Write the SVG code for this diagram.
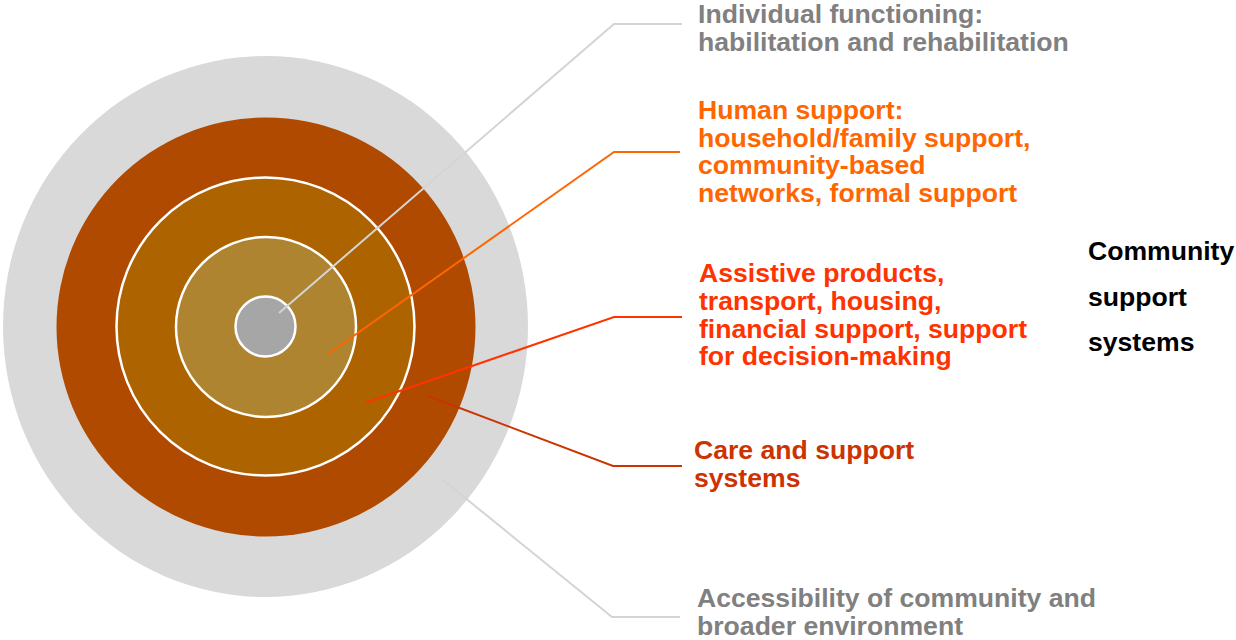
<svg xmlns="http://www.w3.org/2000/svg" width="1236" height="640" viewBox="0 0 1236 640">
<style>
text{font-family:"Liberation Sans",Arial,sans-serif;font-weight:bold;font-size:26.6px}
.gray{fill:#808080}
.orange{fill:#FF6600}
.red{fill:#FF3300}
.dred{fill:#CC3300}
.blk{fill:#000000}
.ln{fill:none;stroke-width:2;stroke-linejoin:miter}
</style>
<rect width="1236" height="640" fill="#FFFFFF"/>
<g id="ring-environment"><ellipse cx="265.5" cy="326.5" rx="262.5" ry="270.5" fill="#D9D9D9"/></g>
<g id="ring-care"><circle cx="266" cy="327" r="209.5" fill="#B04A00"/></g>
<g id="ring-assistive"><circle cx="265.5" cy="326.5" r="149" fill="#AD6400" stroke="#FFFFFF" stroke-width="2.5"/></g>
<g id="ring-human"><circle cx="266" cy="327" r="90" fill="#AF8431" stroke="#FFFFFF" stroke-width="2.5"/></g>
<g id="ring-individual"><circle cx="265.5" cy="326.5" r="30" fill="#A6A6A6" stroke="#FFFFFF" stroke-width="2.5"/></g>
<g id="connectors">
<polyline class="ln" stroke="#D4D4D4" points="279,313 614,24 682,24"/>
<polyline class="ln" stroke="#FF6600" points="328,354 614,152 680,152"/>
<polyline class="ln" stroke="#FF3300" points="365,403 614,317 682,317"/>
<polyline class="ln" stroke="#CC3300" points="428,396 613,466 682,466"/>
<polyline class="ln" stroke="#D4D4D4" points="443,480 612,617 680,617"/>
</g>
<g id="label-individual">
<text class="gray" x="698" y="23">Individual functioning:</text>
<text class="gray" x="698" y="51">habilitation and rehabilitation</text>
</g>
<g id="label-human">
<text class="orange" x="698" y="119">Human support:</text>
<text class="orange" x="698" y="146.5">household/family support,</text>
<text class="orange" x="698" y="174">community-based</text>
<text class="orange" x="698" y="201.5">networks, formal support</text>
</g>
<g id="label-assistive">
<text class="red" x="699" y="282">Assistive products,</text>
<text class="red" x="699" y="310">transport, housing,</text>
<text class="red" x="699" y="337.5">financial support, support</text>
<text class="red" x="699" y="365">for decision-making</text>
</g>
<g id="label-care">
<text class="dred" x="694" y="458.5">Care and support</text>
<text class="dred" x="694" y="487">systems</text>
</g>
<g id="label-accessibility">
<text class="gray" x="697" y="607">Accessibility of community and</text>
<text class="gray" x="697" y="635">broader environment</text>
</g>
<g id="label-community">
<text class="blk" x="1088" y="260">Community</text>
<text class="blk" x="1088" y="306">support</text>
<text class="blk" x="1088" y="351">systems</text>
</g>
</svg>
